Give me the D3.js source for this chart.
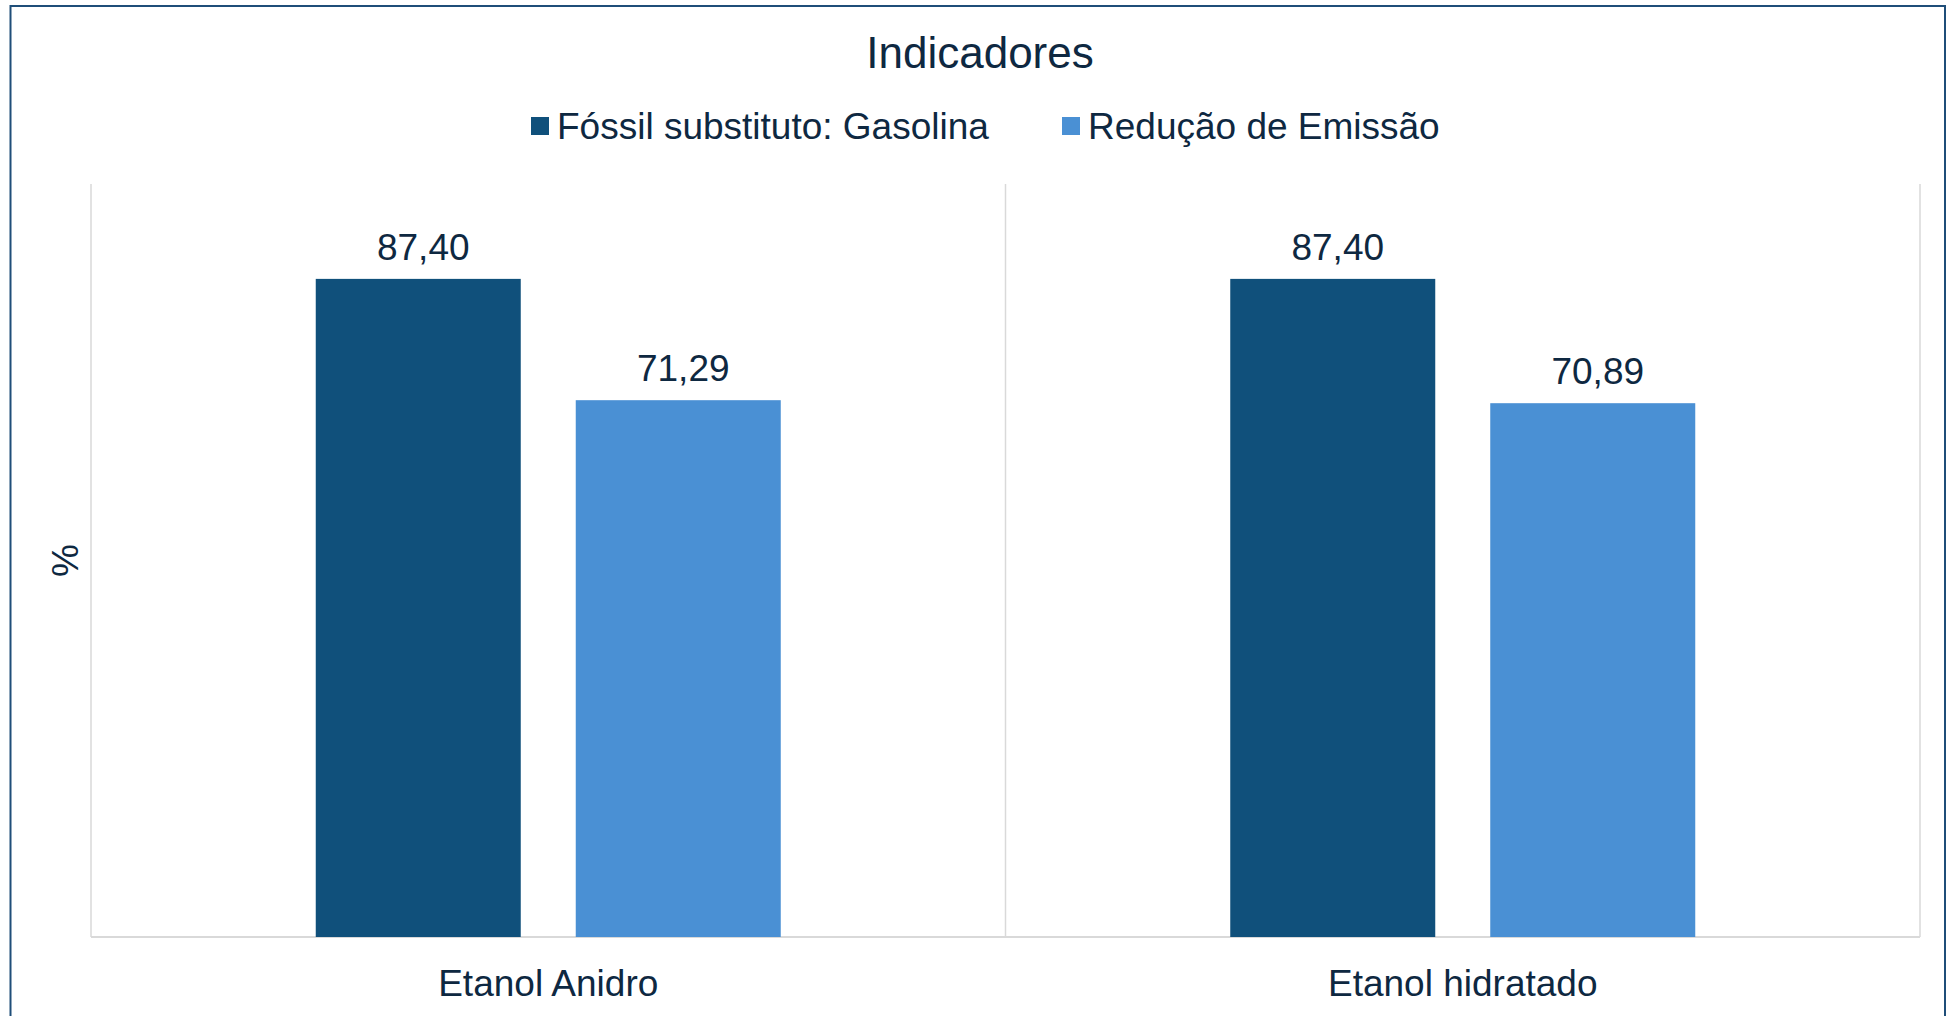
<!DOCTYPE html>
<html>
<head>
<meta charset="utf-8">
<script src="https://cdn.jsdelivr.net/npm/d3@7"></script>
<style>
  html, body { margin: 0; padding: 0; background: #fff; }
  svg { display: block; font-family: "Liberation Sans", Arial, sans-serif; }
</style>
</head>
<body>
<div id="chart"></div>
<script>
var categories = ["Etanol Anidro", "Etanol hidratado"];
var seriesNames = ["Fóssil substituto: Gasolina", "Redução de Emissão"];
var fossilValues = [87.40, 87.40];
var reducaoValues = [71.29, 70.89];
var seriesColors = ["#10507b", "#4a90d4"];

var width = 1954, height = 1016,
    margin = {left: 91, right: 34, top: 184, bottom: 79},
    textColor = "#0e2841",
    gridColor = "#d9d9d9",
    fmt = v => d3.format(".2f")(v).replace(".", ",");

var rows = categories.map((c, i) => ({cat: c, values: [fossilValues[i], reducaoValues[i]]}));

var svg = d3.select("#chart").append("svg")
    .attr("width", width)
    .attr("height", height);

// outer frame
svg.append("rect")
    .attr("x", 10.5).attr("y", 6)
    .attr("width", 1934.5).attr("height", height + 20)
    .attr("fill", "none")
    .attr("stroke", "#1f4e79")
    .attr("stroke-width", 2);

var x0 = d3.scaleBand()
    .domain(categories)
    .range([margin.left, width - margin.right]);

var bw = x0.bandwidth(),
    groupW = bw * 465 / 914.5;

var x1 = d3.scaleBand()
    .domain(d3.range(seriesNames.length))
    .range([(bw - groupW) / 2, (bw + groupW) / 2])
    .paddingInner(55 / 260);

var y = d3.scaleLinear()
    .domain([0, 100])
    .range([height - margin.bottom, margin.top]);

// vertical category separators
var bounds = categories.map(c => x0(c)).concat([x0.range()[1]]);
svg.append("g").selectAll("line")
    .data(bounds)
    .enter().append("line")
    .attr("x1", d => d).attr("x2", d => d)
    .attr("y1", y(100)).attr("y2", y(0))
    .attr("stroke", gridColor)
    .attr("stroke-width", 1.5);

// x axis line
svg.append("line")
    .attr("x1", x0.range()[0]).attr("x2", x0.range()[1])
    .attr("y1", y(0)).attr("y2", y(0))
    .attr("stroke", gridColor)
    .attr("stroke-width", 2);

var groups = svg.append("g").selectAll("g")
    .data(rows)
    .enter().append("g")
    .attr("transform", d => `translate(${x0(d.cat)},0)`);

var items = groups.selectAll("g")
    .data(d => d.values.map((v, i) => ({i: i, v: v})))
    .enter().append("g");

items.append("rect")
    .attr("x", d => x1(d.i))
    .attr("width", x1.bandwidth())
    .attr("y", d => y(d.v))
    .attr("height", d => y(0) - y(d.v))
    .attr("fill", d => seriesColors[d.i]);

items.append("text")
    .attr("x", d => x1(d.i) + x1.bandwidth() / 2 + 5)
    .attr("y", d => y(d.v) - 19)
    .attr("text-anchor", "middle")
    .attr("font-size", 37)
    .attr("fill", textColor)
    .text(d => fmt(d.v));

// category labels
svg.append("g").selectAll("text")
    .data(categories)
    .enter().append("text")
    .attr("x", d => x0(d) + bw / 2)
    .attr("y", 996)
    .attr("text-anchor", "middle")
    .attr("font-size", 37)
    .attr("fill", textColor)
    .text(d => d);

// y axis title
svg.append("text")
    .attr("transform", `translate(${78},${(y(0) + y(100)) / 2}) rotate(-90)`)
    .attr("text-anchor", "middle")
    .attr("font-size", 37)
    .attr("fill", textColor)
    .text("%");

// chart title
svg.append("text")
    .attr("x", 980)
    .attr("y", 68)
    .attr("text-anchor", "middle")
    .attr("font-size", 44)
    .attr("fill", textColor)
    .text("Indicadores");

// legend
var legendX = [531, 1062];
var legend = svg.append("g").selectAll("g")
    .data(seriesNames)
    .enter().append("g")
    .attr("transform", (d, i) => `translate(${legendX[i]},0)`);

legend.append("rect")
    .attr("x", 0).attr("y", 117)
    .attr("width", 18).attr("height", 18)
    .attr("fill", (d, i) => seriesColors[i]);

legend.append("text")
    .attr("x", 26).attr("y", 139)
    .attr("font-size", 37)
    .attr("fill", textColor)
    .text(d => d);
</script>
</body>
</html>
